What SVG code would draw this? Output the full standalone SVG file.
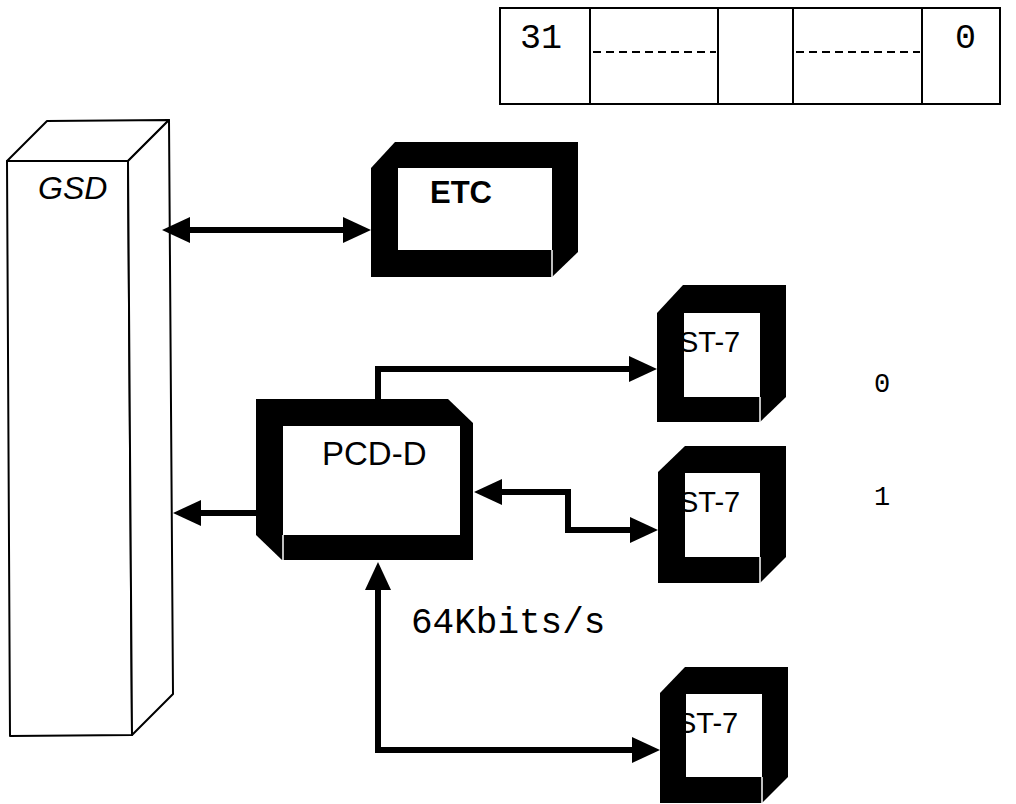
<svg xmlns="http://www.w3.org/2000/svg" width="1016" height="804" viewBox="0 0 1016 804">
<style>
.frame{fill:#000;stroke:none}
.win{fill:#fff;stroke:none}
.edge{stroke:#fff;stroke-width:1.5;fill:none}
.out{fill:#fff;stroke:#000;stroke-width:2;stroke-linejoin:round}
.reg{fill:none;stroke:#000;stroke-width:2}
.dash{stroke:#000;stroke-width:2;stroke-dasharray:8 5;fill:none}
.sans{font-family:"Liberation Sans",Arial,sans-serif;fill:#000}
.mono{font-family:"Liberation Mono","Courier New",monospace;fill:#000}
.conn{fill:none;stroke:#000;stroke-width:6;stroke-linejoin:miter}
</style>
<defs>
<marker id="ah" markerUnits="userSpaceOnUse" markerWidth="28" markerHeight="28" viewBox="0 0 28 28" refX="0" refY="14" orient="auto-start-reverse" overflow="visible">
<path d="M0,1 L28,14 L0,27 z" fill="#000"/>
</marker>
</defs>
<rect width="1016" height="804" fill="#fff"/>

<g id="register">
<rect class="reg" x="500" y="8" width="500" height="96"/>
<line class="reg" x1="590" y1="8" x2="590" y2="104"/>
<line class="reg" x1="718" y1="8" x2="718" y2="104"/>
<line class="reg" x1="793" y1="8" x2="793" y2="104"/>
<line class="reg" x1="922" y1="8" x2="922" y2="104"/>
<line class="dash" x1="593" y1="52" x2="716" y2="52"/>
<line class="dash" x1="796" y1="52" x2="920" y2="52"/>
<text class="mono" x="520" y="48" font-size="35">31</text>
<text class="mono" x="955" y="48" font-size="35">0</text>
</g>

<g id="gsd">
<polygon class="out" points="7,161 128,161 132,735 10,736"/>
<polygon class="out" points="7,161 47,121 169,120 128,161"/>
<polygon class="out" points="128,161 169,120 173,694 132,735"/>
<text class="sans" x="38" y="199" font-size="32" font-style="italic">GSD</text>
</g>

<g id="etc">
<polygon class="frame" points="371,168 395,142 578,142 578,252 552,277 371,277"/>
<rect class="win" x="398" y="168" width="154" height="82"/>
<line class="edge" x1="552" y1="250" x2="552" y2="277"/>
<text class="sans" x="430" y="203" font-size="31" font-weight="bold">ETC</text>
</g>

<g id="pcd">
<polygon class="frame" points="256,399 448,399 473,423 473,560 282,560 256,535"/>
<rect class="win" x="283" y="426" width="177" height="109"/>
<line class="edge" x1="283" y1="535" x2="283" y2="560"/>
<text class="sans" x="322" y="465" font-size="33">PCD-D</text>
</g>

<g id="st7-0">
<polygon class="frame" points="657,313 683,285 786,285 786,397 760,422 657,422"/>
<rect class="win" x="684" y="313" width="76" height="84"/>
<line class="edge" x1="760" y1="397" x2="760" y2="422"/>
<text class="sans" x="679" y="352" font-size="29">ST-7</text>
</g>

<g id="st7-1">
<polygon class="frame" points="658,472 685,446 786,446 786,557 760,583 658,583"/>
<rect class="win" x="685" y="473" width="75" height="84"/>
<line class="edge" x1="760" y1="557" x2="760" y2="583"/>
<text class="sans" x="679" y="512" font-size="29">ST-7</text>
</g>

<g id="st7-2">
<polygon class="frame" points="660,693 685,667 788,667 788,777 762,803 660,803"/>
<rect class="win" x="686" y="694" width="76" height="83"/>
<line class="edge" x1="762" y1="777" x2="762" y2="803"/>
<text class="sans" x="677" y="733" font-size="29">ST-7</text>
</g>

<g id="labels">
<text class="mono" x="874" y="392" font-size="27">0</text>
<text class="mono" x="874" y="505" font-size="27">1</text>
<text class="mono" x="411" y="633" font-size="36">64Kbits/s</text>
</g>

<g id="connectors">
<path class="conn" d="M190,230 H343" marker-start="url(#ah)" marker-end="url(#ah)"/>
<path class="conn" d="M256,513 H201" marker-end="url(#ah)"/>
<path class="conn" d="M378,399 V369 H629" marker-end="url(#ah)"/>
<path class="conn" d="M502,492 H568 V530 H630" marker-start="url(#ah)" marker-end="url(#ah)"/>
<path class="conn" d="M378,590 V750 H632" marker-start="url(#ah)" marker-end="url(#ah)"/>
</g>
</svg>
